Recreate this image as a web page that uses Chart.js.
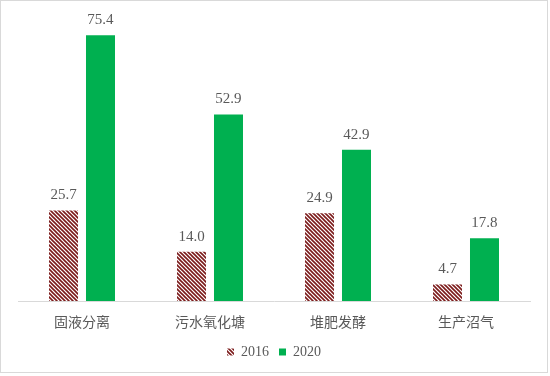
<!DOCTYPE html>
<html>
<head>
<meta charset="utf-8">
<script src="https://cdn.jsdelivr.net/npm/chart.js@4.4.0/dist/chart.umd.min.js"></script>
<style>
html,body{margin:0;padding:0;background:#fff;}
#wrap{width:550px;height:376px;position:relative;}
</style>
</head>
<body>
<div id="wrap"><canvas id="c" width="550" height="376"></canvas></div>
<script>
const categories = ['固液分离', '污水氧化塘', '堆肥发酵', '生产沼气'];
const seriesNames = ['2016', '2020'];
const values2016 = [25.7, 14.0, 24.9, 4.7];
const values2020 = [75.4, 52.9, 42.9, 17.8];

const ctx = document.getElementById('c').getContext('2d');

function makeHatchTile() {
  const p = 4;
  const cv = document.createElement('canvas');
  cv.width = p; cv.height = p;
  const g = cv.getContext('2d');
  g.fillStyle = '#ffffff';
  g.fillRect(0, 0, p, p);
  g.strokeStyle = '#7b1a1a';
  g.lineWidth = 1.6;
  for (let k = -1; k <= 1; k++) {
    g.beginPath();
    g.moveTo(-1 + k * p, -1);
    g.lineTo(p + 1 + k * p, p + 1);
    g.stroke();
  }
  return cv;
}
const hatch = ctx.createPattern(makeHatchTile(), 'repeat');

const labelPlugin = {
  id: 'valueLabels',
  afterDatasetsDraw(chart) {
    const c = chart.ctx;
    c.save();
    c.font = '15px "Liberation Serif", "DejaVu Serif", serif';
    c.fillStyle = '#595959';
    c.textAlign = 'center';
    c.textBaseline = 'middle';
    chart.data.datasets.forEach((ds, i) => {
      const meta = chart.getDatasetMeta(i);
      meta.data.forEach((bar, j) => {
        c.fillText(ds.data[j].toFixed(1), bar.x, bar.y - 15);
      });
    });
    c.restore();
  }
};
const borderPlugin = {
  id: 'outerBorder',
  beforeDraw(chart) {
    const c = chart.ctx;
    c.save();
    c.fillStyle = '#ffffff';
    c.fillRect(0, 0, chart.width, chart.height);
    c.strokeStyle = '#d9d9d9';
    c.lineWidth = 1;
    c.strokeRect(0.5, 0.5, 547, 372);
    c.restore();
  }
};

new Chart(ctx, {
  type: 'bar',
  data: {
    labels: categories,
    datasets: [
      { label: seriesNames[0], data: values2016, backgroundColor: hatch, borderWidth: 0 },
      { label: seriesNames[1], data: values2020, backgroundColor: '#00b050', borderWidth: 0 }
    ]
  },
  options: {
    responsive: false,
    animation: false,
    devicePixelRatio: 1,
    layout: { padding: { left: 18, right: 20, top: 19, bottom: 7 } },
    datasets: { bar: { categoryPercentage: 0.578, barPercentage: 0.784 } },
    plugins: {
      legend: {
        position: 'bottom',
        labels: {
          boxWidth: 7, boxHeight: 7, padding: 10,
          color: '#595959',
          font: { family: '"Liberation Serif", "DejaVu Serif", serif', size: 14 }
        }
      },
      tooltip: { enabled: false }
    },
    scales: {
      x: {
        grid: { display: true, drawOnChartArea: false, drawTicks: true, tickLength: 8, color: 'rgba(0,0,0,0)' },
        border: { display: true, color: '#d9d9d9', width: 1 },
        ticks: {
          color: '#595959', padding: 4.6, maxRotation: 0,
          font: { family: '"Noto Sans CJK SC", sans-serif', size: 14 }
        }
      },
      y: {
        display: false,
        min: 0, max: 80
      }
    }
  },
  plugins: [borderPlugin, labelPlugin]
});
</script>
</body>
</html>
